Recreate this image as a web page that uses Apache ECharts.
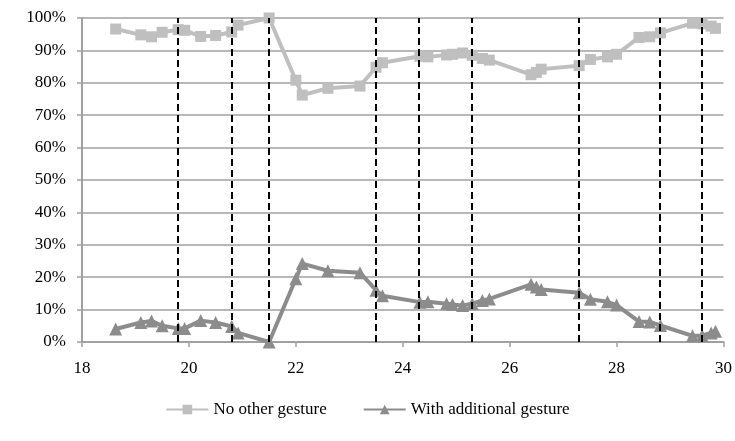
<!DOCTYPE html>
<html>
<head>
<meta charset="utf-8">
<script src="https://cdn.jsdelivr.net/npm/echarts@6/dist/echarts.min.js"></script>
<style>
  body { margin: 0; background: #fff; }
  #main { width: 735px; height: 441px; }
</style>
</head>
<body>
<div id="main"></div>
<script>
// x positions shared by both series
var xs = [18.63, 19.1, 19.3, 19.5, 19.8, 19.92, 20.22, 20.5, 20.8, 20.92, 21.5, 22.0, 22.12, 22.6, 23.2, 23.5, 23.62,
  24.32, 24.47, 24.82, 24.93, 25.12, 25.3, 25.49, 25.62, 26.4, 26.5, 26.59, 27.3, 27.51, 27.83, 28.0, 28.42, 28.62,
  28.82, 29.42, 29.6, 29.77, 29.85];
var noOther = [96.6, 94.8, 94.2, 95.6, 96.4, 96.2, 94.3, 94.6, 95.7, 97.8, 100, 80.8, 76.2, 78.3, 79.0, 84.8, 86.2,
  88.2, 88.0, 88.6, 88.8, 89.2, 88.5, 87.5, 87.0, 82.5, 83.2, 84.2, 85.3, 87.2, 88.0, 88.8, 94.0, 94.2,
  95.4, 98.4, 98.2, 97.5, 96.8];
var withGesture = [4.0, 6.0, 6.5, 5.0, 4.2, 4.2, 6.6, 6.0, 4.8, 2.8, 0, 19.5, 24.2, 22.0, 21.4, 16.0, 14.3,
  12.3, 12.4, 11.8, 11.6, 11.3, 11.8, 12.8, 13.3, 17.8, 17.0, 16.2, 15.2, 13.2, 12.4, 11.4, 6.3, 6.2,
  5.1, 1.9, 2.0, 2.8, 3.3];
// dashed separators
var breaks = [19.8, 20.8, 21.5, 23.5, 24.3, 25.3, 27.3, 28.8, 29.6];
var seriesNames = ['No other gesture', 'With additional gesture'];

function pairs(ys) {
  return xs.map(function (x, i) { return [x, ys[i]]; });
}

var font = 'Liberation Serif';
var chart = echarts.init(document.getElementById('main'));
chart.setOption({
  animation: false,
  grid: { left: 82, right: 11, top: 18, bottom: 99 },
  legend: {
    bottom: 18,
    itemWidth: 42,
    itemHeight: 12,
    itemGap: 36,
    textStyle: { fontFamily: font, fontSize: 17, color: '#000' },
    data: seriesNames
  },
  xAxis: {
    type: 'value', min: 18, max: 30, interval: 2,
    axisLine: { lineStyle: { color: '#a0a0a0', width: 2 } },
    axisTick: { show: true, length: 5, lineStyle: { color: '#a0a0a0', width: 1.5 } },
    axisLabel: { fontFamily: font, fontSize: 17, color: '#000', margin: 18 },
    splitLine: { show: false }
  },
  yAxis: {
    type: 'value', min: 0, max: 100, interval: 10,
    axisLine: { show: true, lineStyle: { color: '#a0a0a0', width: 2 } },
    axisTick: { show: true, length: 5, lineStyle: { color: '#a0a0a0', width: 1.5 } },
    axisLabel: { fontFamily: font, fontSize: 17, color: '#000', formatter: '{value}%', margin: 16 },
    splitLine: { lineStyle: { color: '#a0a0a0', width: 1.5 } }
  },
  series: [
    {
      name: seriesNames[0], type: 'line', data: pairs(noOther),
      symbol: 'rect', symbolSize: 11,
      itemStyle: { color: '#bfbfbf' },
      lineStyle: { color: '#bfbfbf', width: 4 },
      markLine: {
        silent: true, symbol: 'none', label: { show: false },
        lineStyle: { color: '#000', type: [7, 4], width: 2 },
        data: breaks.map(function (b) { return { xAxis: b }; })
      }
    },
    {
      name: seriesNames[1], type: 'line', data: pairs(withGesture),
      symbol: 'triangle', symbolSize: 13,
      itemStyle: { color: '#8c8c8c' },
      lineStyle: { color: '#8c8c8c', width: 4 }
    }
  ]
});
</script>
</body>
</html>
